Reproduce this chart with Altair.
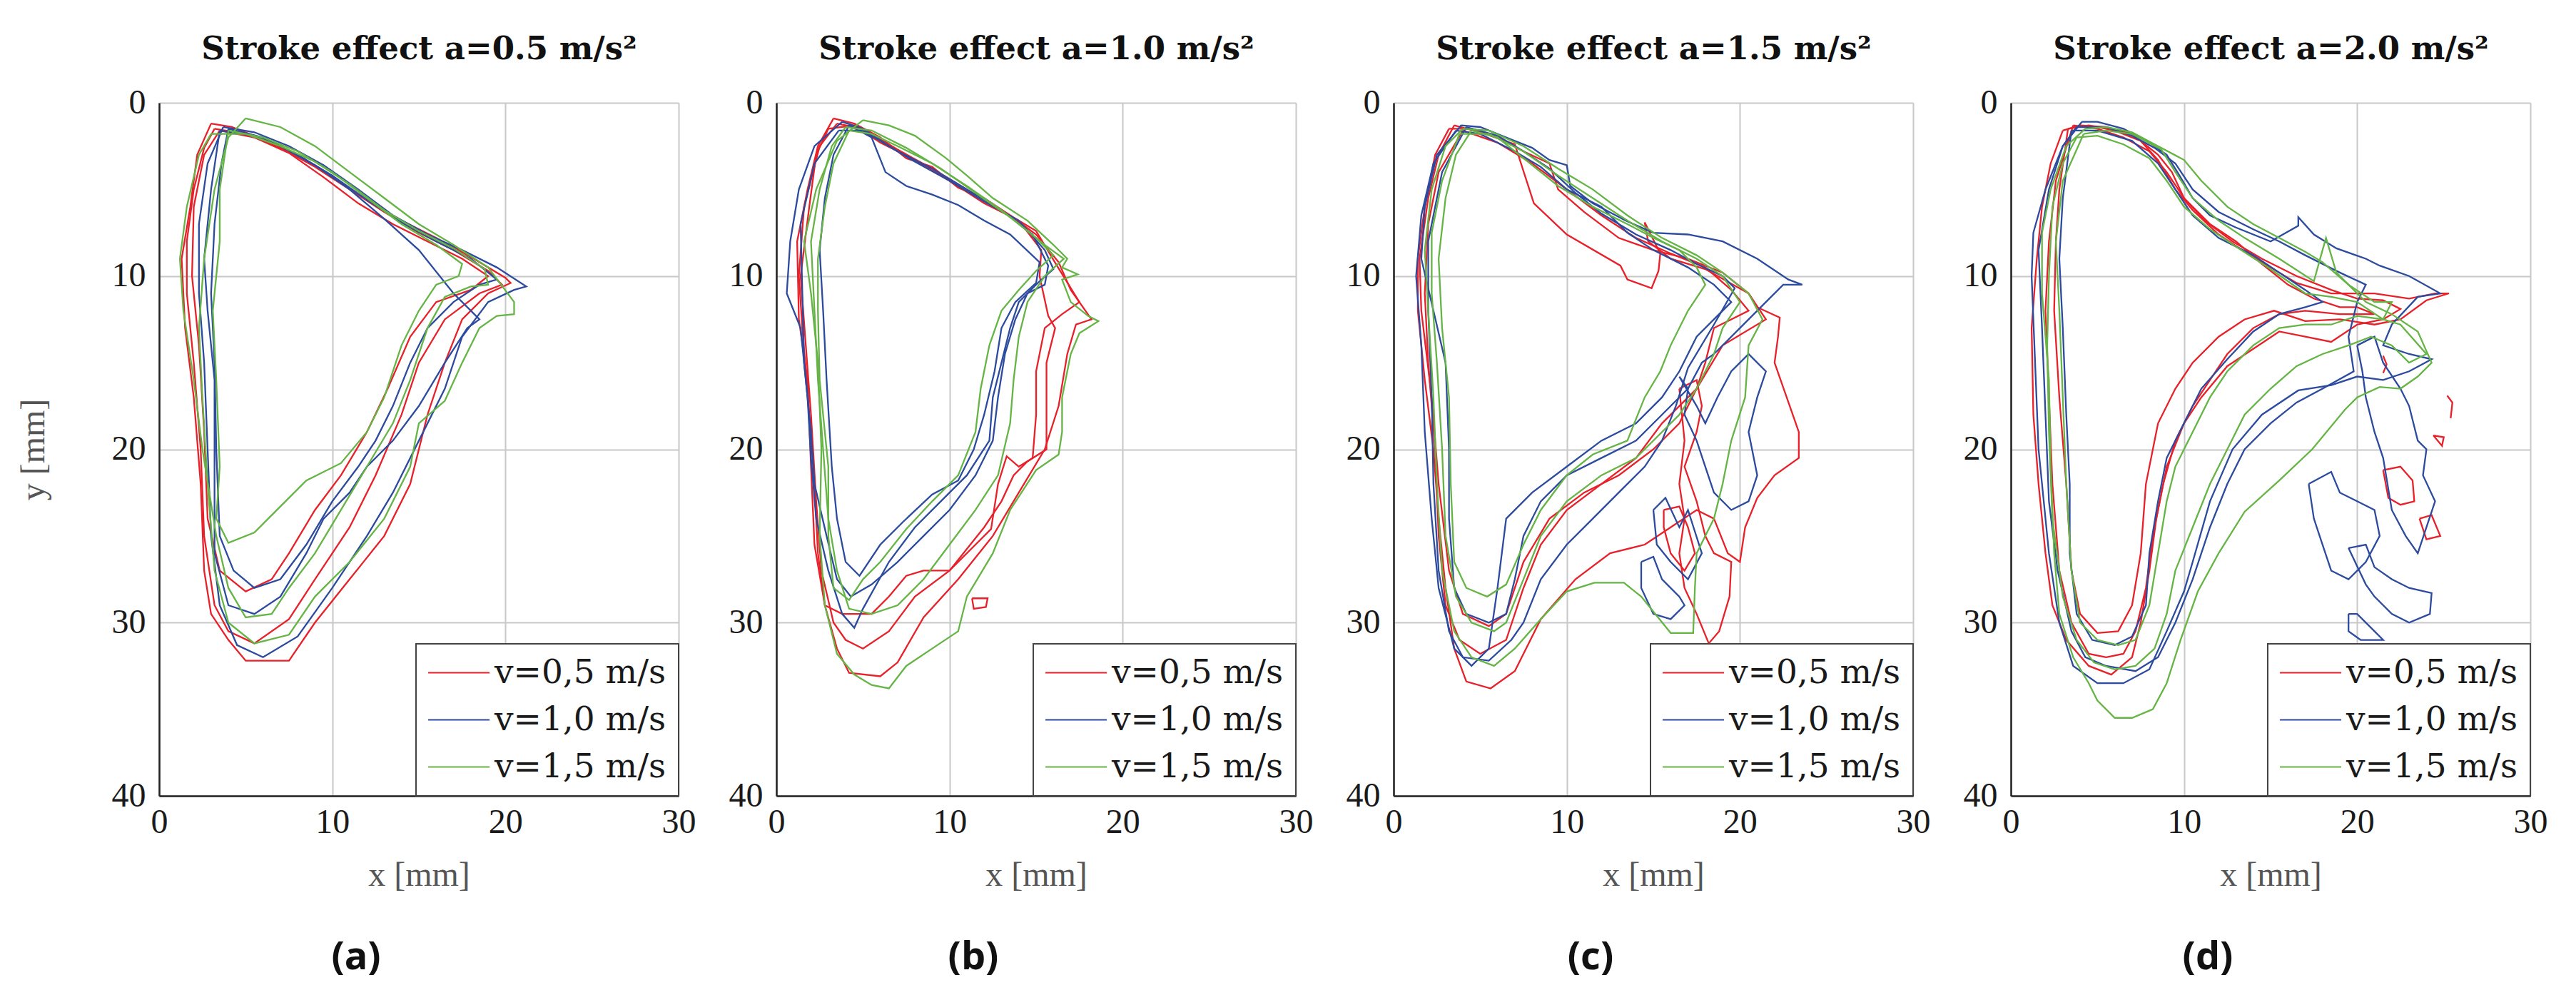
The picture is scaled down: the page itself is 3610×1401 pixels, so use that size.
import altair as alt
import pandas as pd

SPEEDS = ["v=0,5 m/s", "v=1,0 m/s", "v=1,5 m/s"]
COLORS = ["#e8202a", "#2c4a9e", "#66b446"]
PANEL_TITLES = ["Stroke effect a=0.5 m/s²", "Stroke effect a=1.0 m/s²",
                "Stroke effect a=1.5 m/s²", "Stroke effect a=2.0 m/s²"]
PANEL_LABELS = ["(a)", "(b)", "(c)", "(d)"]
X_TICKS = [0, 10, 20, 30]
Y_TICKS = [0, 10, 20, 30, 40]

# ---------------- panel (a): a = 0.5 m/s^2 ----------------
A_RED = [
    [(3.0,1.2),(4.2,1.4),(6,2.1),(8,3.0),(10,4.3),(12,5.6),(14,6.8),(16,7.8),(18,8.9),(20,10.1),(20.3,10.4),(19,11),(17.5,12.5),(16.5,15),(15.5,18),(14.5,22),(13,25),(11,27.5),(9,30),(7.5,32.2),(5,32.2),(4,31),(3,29.5),(2.6,27),(2.4,22),(2,17),(1.5,13),(1.3,9),(1.8,6),(2.2,3),(3.0,1.2)],
    [(3.2,1.5),(5,1.8),(7,2.6),(9,3.7),(11,5.0),(13,6.3),(15,7.5),(17,8.5),(19,9.7),(19.8,10.5),(18.5,11),(16.5,12.5),(15,15),(14,18),(12.5,21.5),(11,24.5),(9,27.5),(7.5,29.8),(5.5,31.2),(4,30.5),(3.2,29),(2.6,25),(2.4,20),(2,15),(1.6,11),(1.6,8),(2,5),(2.6,2.6),(3.2,1.5)],
    [(3.5,1.6),(5.5,2.0),(7.5,2.9),(9.5,4.3),(11.5,5.8),(13.5,7.0),(15.5,8.0),(17.5,9.0),(19,10),(18,10.8),(16,11.5),(14.5,13.5),(13.2,16.5),(12,19),(10.5,21.5),(9,23.5),(7.5,26),(6.5,27.5),(5,28.2),(3.5,27),(2.8,24),(2.6,19),(2.3,14),(1.9,10),(2,6),(2.6,3),(3.5,1.6)],
]
A_BLUE = [
    [(3.7,1.4),(5.5,1.7),(7.5,2.5),(9.5,3.6),(11.5,5),(13.5,6.5),(15.5,7.6),(17.5,8.5),(19.5,9.5),(21.2,10.6),(20.5,10.8),(19,11.5),(17.5,13.5),(16.5,16.5),(15,19.5),(13.5,22.5),(12,25),(10,28),(8,30.8),(6,32),(4.5,31.3),(3.5,29),(3,25),(2.8,20),(2.6,15),(2.3,11),(2.3,7),(2.8,3.5),(3.7,1.4)],
    [(3.5,1.6),(5.5,1.9),(7,2.5),(9,3.6),(11,5),(13,6.7),(15,8.5),(17,11),(18.5,12.5),(17.8,13),(16.5,15),(15,17.5),(13.5,19.5),(12,21),(11,22.5),(9.5,24),(8.5,26),(7,28.5),(5.5,29.5),(4,29),(3.2,26),(3.2,20),(3.2,16),(2.8,12),(2.6,9),(3,5),(3.5,1.6)],
    [(4,1.5),(6,2),(8,3),(10,4.2),(12,5.6),(14,6.9),(16,8),(18,9),(19.5,10.2),(18.5,10.5),(17,11.5),(15.5,13),(14.5,15),(13.5,17.5),(12.5,19.5),(11.5,21),(10,23),(8.5,25.5),(7,27.5),(5.5,28),(4.3,27),(3.5,25),(3.3,20),(3.2,15),(3,11),(3.2,7),(3.6,3.5),(4,1.5)],
]
A_GREEN = [
    [(5,0.9),(7,1.4),(9,2.5),(11,4),(13,5.5),(15,7),(17,8.2),(19,9.5),(20.5,11.5),(20.5,12.2),(19.5,12.3),(18.5,13),(17.5,15),(16.5,17.2),(15,18.5),(14.5,21),(13,24),(11,26.5),(9,28.5),(7.5,30.7),(5.5,31.2),(4,30),(3.2,27),(2.8,22),(2.5,17),(2.3,13),(2.6,9),(3.2,5),(4,2),(5,0.9)],
    [(4,1.6),(6,2),(8,2.8),(10,4),(12,5.5),(14,7),(16,8.2),(17.5,9.3),(17.3,10),(16,10.5),(15,12),(14,14),(13,17),(12,19),(10.5,20.8),(8.5,21.8),(7,23.3),(5.5,24.8),(4,25.4),(3.3,24),(3.5,21),(3.3,16),(3.1,12),(3.5,8),(3.5,5),(4,1.6)],
    [(3,1.8),(5,1.8),(7,2.5),(9,3.4),(11,4.7),(13,6.2),(15,7.4),(17,8.4),(18.8,9.6),(19,10.5),(18,10.6),(16.5,11.2),(15.5,13),(14.5,16),(13.5,18.5),(12,21),(10.5,23.5),(9,26),(7.5,28),(6.5,29.5),(5,29.7),(4,28),(3.3,25),(2.5,20),(2,16),(1.4,12),(1.2,9),(1.6,6),(2.3,3),(3,1.8)],
]

# ---------------- panel (b): a = 1.0 m/s^2 ----------------
B_RED = [
    [(3.3,0.9),(4.5,1.2),(6,2),(7.5,3.2),(9,3.7),(10.5,4.9),(12,5.5),(13.5,6.5),(15,7.6),(16.3,9.2),(17,10.8),(18.2,12.5),(17.3,12.8),(16.8,14.5),(16.3,17.5),(15.5,20),(14,22.5),(12.5,25),(10.5,27.5),(8.5,29.7),(7,32.3),(6,33.1),(4.2,32.9),(3.5,31.5),(2.8,29),(2.2,25.5),(2,21),(1.8,16),(1.3,12.5),(1.2,8),(1.8,5),(2.4,2.5),(3.3,0.9)],
    [(3,1.5),(4.5,1.3),(6,2.3),(8,3.3),(10,4.5),(12,5.8),(14,6.8),(15.3,8.5),(15.2,10),(15.7,12.3),(16.1,13),(15.6,15),(15.6,20),(14.5,20.7),(13.7,21.5),(13,23),(12,24.5),(10,27),(8,28.5),(6.5,30.5),(5,31.5),(4,31),(3.3,30),(2.6,27),(2.3,23),(2,18),(1.7,14),(1.4,10),(1.9,6),(2.3,3),(3,1.5)],
    [(3.5,1.2),(5,1.5),(7,2.7),(9,3.8),(11,5),(13,6.2),(15,7.4),(16.2,9.4),(17.5,11.5),(16.5,12.2),(15.5,13),(15,15.5),(15,18),(14.8,20.5),(14,21),(13.3,20.4),(12.8,22),(12.4,24.6),(11.5,25.5),(10,27),(8.5,27),(7.5,27.3),(6.5,28.5),(5.5,29.5),(3.8,29.5),(2.8,29),(2.4,26),(2.2,22),(1.9,18),(1.5,13),(1.3,10),(1.6,6),(2.5,2.5),(3.5,1.2)],
    [(11.3,28.6),(12.2,28.6),(12.1,29.1),(11.4,29.2),(11.3,28.6)],
]
B_BLUE = [
    [(3.8,1.1),(5,1.5),(6.5,2.5),(8,3.4),(10,4.5),(12,5.7),(14,6.8),(15.5,8.5),(16,9.6),(15.2,10.3),(14,11.5),(13.5,13),(13,15),(12.5,17),(12.3,19.5),(11,21.5),(10,22.5),(8,24.5),(6.5,26.5),(5,29.2),(4.5,30.3),(3.8,29.5),(3,27),(2.3,24),(2,20.5),(1.8,17),(1.4,13),(0.6,11),(0.8,8),(1.3,5),(2.2,2.5),(3.8,1.1)],
    [(4.2,1.3),(5.5,2),(6.3,4),(7.5,4.8),(9,5.3),(10.5,5.9),(12,6.8),(13.5,7.6),(15.2,9.2),(15,10.4),(13.8,11.5),(13,13),(12.6,15.5),(12,18),(11.4,20),(10.5,21.8),(9,22.6),(7.3,24.2),(6,25.5),(4.8,27.3),(4,26.5),(3.5,24),(3.2,21),(2.9,16),(2.7,12),(2.5,8.5),(2.8,5.5),(3.3,3),(4.2,1.3)],
    [(3.6,1.6),(5,1.6),(7,2.8),(9,3.8),(11,5),(13,6.2),(14.8,7.6),(15.7,9.4),(15.5,10.5),(14.5,11),(13.8,12.5),(13.2,14.5),(12.8,17),(12.5,19.5),(11.5,21.5),(10,23.5),(8.5,25),(7,26.5),(5.5,27.8),(4.3,28.5),(3.5,27.5),(2.9,25),(2.2,22),(2,19),(1.6,15),(1.5,11),(1.4,7),(2.2,3.5),(3.6,1.6)],
]
B_GREEN = [
    [(5,1.0),(6.5,1.3),(8,1.9),(9.8,3.2),(11,4.2),(12.5,5.5),(14.5,6.8),(16,8.2),(16.8,9),(16.5,9.5),(17.4,9.9),(16.5,10.2),(17,11.5),(18,12.3),(18.6,12.6),(17.5,13.3),(17,14.5),(16.5,17),(16.5,19),(16.3,20.3),(15,21.2),(13.5,23.5),(12.5,26),(11,28.5),(10.5,30.5),(9,31.5),(7.5,32.5),(6.5,33.8),(5.5,33.6),(4.5,33),(3.5,31.8),(2.8,29),(2.5,25),(2.6,20),(2.4,15),(2,11),(1.6,8),(2.3,5),(3.5,2.2),(5,1.0)],
    [(4.2,1.6),(5.5,1.8),(7,2.5),(9,3.5),(11,4.8),(13,6.2),(15,7.8),(16,8.8),(15,9.7),(14,10.8),(13,12),(12.3,14),(11.8,16.5),(11.5,19),(10.5,21.5),(9,23),(7.5,24.6),(6,26.5),(5,27.5),(4.2,28.7),(3.3,28),(3,25),(3,21),(2.5,16),(2.4,12),(2.4,9),(2.8,6),(3.3,3.5),(4.2,1.6)],
    [(4,1.4),(5.5,1.6),(7.5,2.6),(9.5,3.8),(11.5,5.2),(13.5,6.6),(15.5,8.2),(16.6,9),(15.5,10),(14.5,11.5),(14,13.5),(13.7,16),(13.5,18.5),(12.8,21.5),(11.5,23.5),(10,25.5),(8.5,27.5),(7,29),(5.5,29.5),(4.2,29.2),(3.5,27),(3,24),(2.7,20),(2.4,16),(2.2,12),(2,8),(2.5,5),(3.2,2.5),(4,1.4)],
]

# ---------------- panel (c): a = 1.5 m/s^2 ----------------
C_RED = [
    [(3.2,1.5),(4.5,1.5),(6,2),(7.5,2.8),(9,3.5),(9.5,5),(11,6.3),(13,7.8),(15,8.5),(17,9),(19,9.8),(20.5,11),(21,11.8),(22.3,12.4),(22.2,13.5),(22,15),(22.7,17),(23.4,19),(23.4,20.5),(22,21.5),(21,22.8),(20.3,24.5),(20,26.5),(19.3,26),(18.5,24),(17.5,23.5),(16,24.5),(14.5,25.5),(12.5,26),(10.5,27.5),(8.5,29.8),(7,32.8),(5.6,33.8),(4.2,33.4),(3.5,31.5),(3,28),(2.6,24),(2.3,20),(1.8,16),(1.4,12),(1.4,9),(1.8,6),(2.4,3),(3.2,1.5)],
    [(3.5,1.3),(5,1.7),(7,2.4),(8.1,5.8),(10,7.6),(13.1,9.4),(13.5,10.2),(14.9,10.7),(15.3,9.7),(15.4,8.7),(14.5,6.9),(14.7,8),(16,9),(18,9.6),(20.5,11),(21.5,12.5),(19,14),(17.5,16.5),(16.5,18.5),(15,20),(13,21.5),(11,22.5),(9,24),(7.5,26.5),(6.5,29.5),(5.5,30.2),(4,29.5),(3.2,27),(2.6,22),(2.2,17),(1.6,12),(1.5,9),(2,5.5),(2.6,3),(3.5,1.3)],
    [(4,1.6),(6,2.3),(8,3.5),(10,5),(12,6.5),(14,7.8),(16,8.7),(18,9.5),(19.5,10.8),(20.5,12),(19.5,12.5),(18.5,13),(18,15),(17.5,16.5),(16.5,17.5),(15.5,18.5),(14,20.5),(12,22),(10,23.5),(8.5,25.5),(7.5,28),(6.5,31),(5,31.8),(3.8,31),(3,29),(2.6,25),(2.4,20),(2,15),(1.8,11),(2,7),(2.6,4),(4,1.6)],
    [(16.5,16.5),(17.5,16),(17.8,17.5),(17.5,19),(16.8,21),(17.5,23),(18,25),(18.5,26),(19.5,26.5),(19.4,28.5),(18.8,30.5),(18.2,31.2),(17.5,29.5),(16.8,28),(16.5,26),(16.8,24),(16.5,22),(16.8,19.5),(16.5,16.5)],
    [(15.6,23.5),(16.5,23.3),(17,24.5),(17.4,26),(16.8,27),(16,26),(15.6,24.5),(15.6,23.5)],
]
C_BLUE = [
    [(3.9,1.3),(5,1.4),(6.5,2),(8,2.6),(9,3.3),(10,3.6),(10.2,4.8),(11.5,5.8),(13.4,6.8),(15,7.5),(17,7.6),(19,8),(21,9),(22.8,10.2),(23.6,10.5),(22.5,10.5),(21.5,11.5),(20,13),(18.5,14.5),(17.8,15),(17,16.5),(15.5,18),(14,19.5),(12,20.5),(10,21.5),(8.5,23),(7.5,25),(7,27.5),(6.5,29.5),(5.5,30),(4.2,29.5),(3.5,28),(3.2,24),(3.2,20),(3,15),(2.3,12),(1.6,9),(1.8,6),(2.5,3),(3.9,1.3)],
    [(3.6,1.6),(5,1.8),(7,2.8),(8.5,3.7),(10,5),(12,6),(13.5,7.5),(15,8.5),(17,9.5),(18.5,10.5),(19.5,11.5),(18.5,12.5),(17.5,13.5),(16.5,15.5),(15.5,17),(14,18.5),(12,19.5),(10,21),(8,22.5),(6.5,24),(6,28),(5.5,31.5),(4.5,32.5),(3.5,31.5),(2.6,28),(2.2,24),(1.8,19),(1.6,14),(1.3,10),(1.6,6.5),(2.3,3.5),(3.6,1.6)],
    [(4.2,1.4),(6,1.9),(7.5,2.8),(9,3.8),(10.5,5.2),(12,6.4),(14,7.6),(16,8.5),(17.5,9.3),(19,10),(19.7,10.7),(18.5,12.8),(17,15.3),(16.3,17.5),(15.5,19.5),(14.5,21),(13,22.5),(11.5,24),(10,25.5),(8.5,27.5),(7.5,30),(6.8,31),(5.5,32.2),(4,32),(3.2,30.5),(2.6,27),(2.3,22),(2.2,17),(2,12),(2,8),(2.8,4),(4.2,1.4)],
    [(16.5,15.8),(17,16.5),(16.8,18),(17.5,19.5),(18,21),(18.5,22.5),(19.5,23.5),(20.5,23),(21,21.5),(20.5,19),(21,17),(21.5,15.5),(20.5,14.5),(19.5,15.5),(18.7,17),(18,18.5),(17.5,17.5),(16.5,15.8)],
    [(14.3,26.5),(15,26.2),(15.5,27.5),(16.5,28.5),(16.8,29),(16,29.8),(15,29.5),(14.3,28),(14.3,26.5)],
    [(15,23.5),(15.7,22.8),(16.5,24.5),(17,23.5),(17.8,26),(17,27.5),(16,26.5),(15.2,25.5),(15,23.5)],
]
C_GREEN = [
    [(4.5,1.6),(6,2),(7.5,3.2),(9.5,4.8),(11.5,6),(13.5,7),(15,7.8),(16.5,8.5),(17.5,9.5),(18,10.5),(17,12),(16,14),(15.4,15.5),(14.5,17),(13.5,19.5),(11.5,20.3),(10,21.5),(8.5,23.5),(7.5,25.5),(6.5,27.8),(5.4,28.5),(4.2,28),(3.5,26.5),(3.3,22),(3.2,17),(2.8,13),(2.6,9),(3,5.5),(3.6,3),(4.5,1.6)],
    [(4,1.5),(5.5,1.6),(7.5,2.5),(9.5,3.8),(11.5,5),(13.5,6.5),(15.5,7.8),(17.5,8.8),(19,9.8),(20.5,11),(21.3,12.5),(20.5,14),(20.3,17),(19.5,19.5),(19,22),(18.5,24),(17.5,26),(17.4,28),(17.3,30.6),(16,30.6),(14.3,28.5),(13.3,27.7),(11.6,27.7),(10,28.2),(8.5,29.8),(7,31.5),(5.8,32.5),(4.5,32),(3.5,30.5),(2.8,27),(2.5,22),(2.3,17),(2,12),(1.8,8.5),(2.2,5),(3,2.5),(4,1.5)],
    [(3.8,1.8),(5.5,1.8),(7.5,2.8),(9.5,4.2),(11.5,5.5),(13.5,6.8),(15.5,8),(17.5,9),(19,10),(20,11.5),(19,13),(18.5,14.5),(17.5,16.5),(16.5,18),(15.5,19),(14,20.5),(12,21.5),(10,23),(8.5,25),(7.5,27.5),(6.5,30),(5.8,30.5),(4.5,30),(3.6,28.5),(3,25),(2.8,20),(2.5,15),(2.2,11),(2.2,7.5),(2.8,4.5),(3.8,1.8)],
]

# ---------------- panel (d): a = 2.0 m/s^2 ----------------
D_RED = [
    [(3.3,1.5),(4.5,1.3),(6,1.6),(7.5,2.2),(8.5,3.3),(9.5,5),(10.5,6.2),(12,7.6),(13.5,8.6),(15,9.5),(16.5,10.4),(18.5,11),(21,11),(23,11.3),(24.5,11),(25.3,11),(24,11.4),(22.5,12.5),(21,12.8),(19,12.5),(17,12.6),(15.2,12),(13.5,12.5),(12,13.5),(10.5,15),(9.5,16.5),(8.5,18.5),(7.8,22),(7.5,26),(7,29),(6.2,30.5),(5,30.6),(4,29.5),(3.5,27),(3.2,22),(2.8,17),(2.5,12),(2.6,8),(2.8,5),(3.3,1.5)],
    [(3,1.6),(4,1.3),(5.5,1.4),(7,1.8),(8.5,3),(9.3,4),(10,5.5),(11.2,6.8),(12.8,8),(14.5,9),(16.5,10),(18.5,10.8),(20,11.3),(21.5,11.4),(22.5,11.9),(21.5,12.5),(20,12.8),(18.5,13.8),(17,13.5),(15.5,13.2),(14,14.2),(12.5,15.2),(11,17),(10,18.5),(9,21),(8.4,24),(8,27),(7.5,30),(7,32),(5.8,33),(4.5,32.5),(3.2,31),(2.4,29),(2,26),(1.6,22),(1.3,18),(1.2,13),(1.5,9),(1.8,6),(2.3,3.5),(3,1.6)],
    [(3.6,1.3),(5,1.5),(6.5,2),(8,2.8),(9,4),(10,5.5),(11.5,7),(13,8),(14.5,9.3),(16,10.5),(17.5,11.3),(19,11.8),(20,11.8),(21,12.2),(19,12.2),(17,12),(15.5,12.2),(14,13),(12.5,14.5),(11.5,16),(10.5,17.5),(9.5,19.5),(8.8,22),(8.2,25),(7.8,28),(7.2,30.5),(6.5,31.8),(5.5,32),(4.5,31.8),(3.5,30),(2.8,27),(2.4,22),(2.2,17),(2,12),(2.2,8),(2.6,4.5),(3.6,1.3)],
    [(21.5,21.2),(22.5,21),(23.2,21.8),(23.3,23),(22.5,23.2),(21.8,22.8),(21.5,21.2)],
    [(23.6,24),(24.3,23.8),(24.8,25),(24,25.2),(23.6,24)],
    [(24.4,19.2),(25,19.3),(24.9,19.8),(24.4,19.2)],
    [(25.2,16.9),(25.5,17.3),(25.4,18.2)],
    [(21.5,14.6),(21.7,15.1),(21.5,15.6)],
]
D_BLUE = [
    [(4.1,1.1),(5,1.1),(6.5,1.5),(8,2.3),(9,3),(9.8,4.3),(10.5,5.5),(11.5,6.5),(13,7.2),(15,8),(16.6,7.1),(16.6,6.6),(17.5,7.6),(18.8,8.4),(20.5,9),(21.3,9.4),(23,10),(24.8,11),(23.5,11.2),(22,12.8),(21.5,14),(23,14.5),(24.3,14.8),(23,15.5),(21.5,16),(20,15.8),(18.5,16.3),(16.6,16.6),(14.5,18),(12.8,20),(11.5,23),(10.5,26.5),(10,28.2),(9,30.5),(8,32.7),(6.5,33.5),(5,33.5),(3.6,32.5),(2.8,30),(2.2,26),(1.6,20),(1.4,15),(1.2,10),(1.3,7.5),(2,5),(3,2.5),(4.1,1.1)],
    [(3.5,1.6),(5,1.6),(7,2.2),(8.5,3.5),(9.5,5),(10.5,6.5),(12,7.8),(14,8.8),(15.5,9.8),(17,10.8),(18,11.5),(17,11.8),(15.5,12.2),(14,13.2),(12.5,14.8),(11,16.5),(10,18.5),(9,20.5),(8.5,23),(8,26),(7.8,29),(7,30.8),(6,31.3),(4.7,31),(3.8,29.5),(3.4,26),(3.4,22),(3.2,18),(3,13),(2.8,9),(3,5.5),(3.5,1.6)],
    [(3.8,1.4),(5.5,1.4),(7,1.9),(8.3,2.6),(9.5,3.5),(10.5,5),(12,6.3),(14,7.3),(15.5,8),(17,8.8),(19,9.8),(20.5,10.5),(20,11.5),(19.5,13.5),(19.8,15.5),(18,16.5),(16.5,17.3),(15,18.5),(13.5,20),(12.5,22),(11.5,24.5),(10.5,27.5),(9.5,30),(8.5,32),(7.2,32.8),(5.5,32.5),(4.3,32),(3.5,30.5),(2.7,27),(2.2,23),(2,18),(1.8,13),(1.6,8.5),(2.2,5),(3,2.5),(3.8,1.4)],
    [(17.2,22),(18.5,21.3),(19,22.5),(20,23),(21,23.5),(21.3,25),(20.5,26.5),(19.5,27.5),(18.5,27),(18,25.5),(17.5,24),(17.2,22)],
    [(19.5,25.7),(20.5,25.5),(21,26.8),(22,27.5),(23,28),(24.3,28.3),(24.2,29.5),(23,30),(22,29.5),(21,28.5),(20.5,27.8),(19.5,25.7)],
    [(19.5,29.5),(20,29.5),(21,30.5),(21.5,31),(20.2,31),(19.5,30.5),(19.5,29.5)],
    [(20,14),(21,13.5),(21.5,15),(22.5,16.5),(23,17.5),(23.5,19.5),(24,20),(23.8,21.5),(24.5,23),(24,24.5),(23.5,26),(22.8,25),(22,23.5),(21.5,20.5),(21,19),(20.5,17),(20.3,15.5),(20,14)],
]
D_GREEN = [
    [(4.3,1.5),(5.5,1.4),(7,1.7),(8.5,2.5),(10,3.3),(11,4.5),(12.5,6),(14,7),(15.5,7.8),(17,8.6),(18,9.2),(19.5,10.5),(20.5,11.5),(22,12.2),(23.5,13.2),(24.3,15),(23.5,15.8),(22.5,16.5),(21.3,16.4),(20,17),(19.3,17.7),(17.4,20),(15.5,21.8),(13.5,23.6),(12,26),(10.8,28.2),(9.8,31),(9,33.5),(8.2,35),(7,35.5),(6,35.5),(5,34.5),(4.5,33.5),(3.6,32),(2.8,29.5),(2.5,26),(2.3,21),(2.2,16),(1.8,11),(1.8,7.5),(2.3,5),(3.2,2.5),(4.3,1.5)],
    [(4.2,1.8),(5.5,1.6),(7,1.8),(8.7,2.7),(9.5,4),(10.5,5.5),(12,6.8),(13.5,7.8),(15.5,9),(17.5,10.3),(18,8.5),(18.2,7.8),(18.8,9.8),(19.5,10.5),(21,11.5),(22,11.5),(21.5,12.5),(20,12.3),(18.5,12.8),(17,12.8),(15.5,13),(14,14),(12.5,15.5),(11.5,17),(10.5,19),(9.5,21),(9,23),(8.5,26),(8,29),(7.2,31),(6.2,31.3),(5,31),(4,30),(3.5,27),(3.2,22),(3,17),(2.8,12),(2.6,8),(3,4.5),(4.2,1.8)],
    [(3.8,2),(5,1.9),(6.5,2.4),(8,3.2),(9,4.5),(10,6),(11.5,7.3),(13,8.3),(15,9.6),(17,11),(18.5,11.2),(20,11.5),(21.5,12.5),(22.5,12.8),(24,14.5),(23,15),(22,14),(20.8,13.5),(19.5,14),(18,14.5),(16.5,15.2),(15,16.5),(13.5,18),(12.5,20),(11.5,22),(10.5,24.5),(9.5,27),(9,29.5),(8.3,31.5),(7.2,32.5),(6,32.7),(4.8,32.3),(3.8,31),(3,28.5),(2.4,24),(2.2,19),(2.1,14),(2.2,10),(2.4,6),(3,3.5),(3.8,2)],
]

PANELS = [
    (A_RED, A_BLUE, A_GREEN),
    (B_RED, B_BLUE, B_GREEN),
    (C_RED, C_BLUE, C_GREEN),
    (D_RED, D_BLUE, D_GREEN),
]

PLOT_W, PLOT_H = 728, 971
SERIF = "Liberation Serif"


def frame(red, blue, green):
    rows = []
    for speed, loops in zip(SPEEDS, (red, blue, green)):
        for k, loop in enumerate(loops):
            for i, (x, y) in enumerate(loop):
                rows.append({"speed": speed, "loop": f"{speed}#{k}", "i": i, "x": x, "y": y})
    return pd.DataFrame(rows)


def panel(idx):
    df = frame(*PANELS[idx])
    xs = alt.Scale(domain=[0, 30], nice=False, zero=False)
    ys = alt.Scale(domain=[0, 40], nice=False, zero=False, reverse=True)
    lines = alt.Chart(df).mark_line(strokeWidth=2.3, clip=True).encode(
        x=alt.X("x:Q", scale=xs,
                axis=alt.Axis(values=X_TICKS, title="x [mm]", labelPadding=13, titlePadding=26)),
        y=alt.Y("y:Q", scale=ys,
                axis=alt.Axis(values=Y_TICKS, title="y [mm]" if idx == 0 else None,
                              labelPadding=19, titlePadding=85)),
        color=alt.Color("speed:N", scale=alt.Scale(domain=SPEEDS, range=COLORS),
                        legend=alt.Legend(title=None, orient="bottom-right", offset=0,
                                          padding=17, strokeColor="#444", fillColor="white",
                                          symbolType="M-1.09,0L2.91,0", symbolSize=1849,
                                          symbolStrokeWidth=2.2, labelFont="DejaVu Serif",
                                          labelFontSize=47, labelColor="#1a1a1a",
                                          labelOffset=46, rowPadding=18, labelLimit=0)),
        detail="loop:N",
        order="i:Q",
    )
    top = alt.Chart(df).mark_point(opacity=0).encode(
        x=alt.X("x:Q", scale=xs,
                axis=alt.Axis(orient="top", title=PANEL_TITLES[idx], labels=False, ticks=False,
                              domain=False, grid=False, titleFont="DejaVu Serif",
                              titleFontWeight="bold", titleFontSize=45, titleColor="#111",
                              titleBaseline="alphabetic", titlePadding=62)),
    )
    return alt.layer(lines, top).resolve_axis(x="independent").properties(
        width=PLOT_W, height=PLOT_H,
        title=alt.TitleParams(PANEL_LABELS[idx], orient="bottom", anchor="middle", frame="group",
                              dx=-88, offset=65, font="Open Sans", fontSize=54,
                              fontWeight="bold", color="#111"),
    )


chart = alt.hconcat(*[panel(i) for i in range(4)], spacing=46).resolve_scale(
    color="independent"
).properties(
    padding={"left": 15, "top": 38, "right": 10, "bottom": 10}
).configure_view(stroke=None).configure_axis(
    gridColor="#c8c8c8", gridWidth=2, domainColor="#222", domainWidth=2.5, ticks=False,
    labelFont=SERIF, labelFontSize=48, labelColor="#1a1a1a", labelFlush=False,
    titleFont=SERIF, titleFontSize=48, titleColor="#555", titleFontWeight="normal",
).configure_legend(strokeWidth=2)

chart.save("out.html", embed_options={"renderer": "svg", "actions": False})
